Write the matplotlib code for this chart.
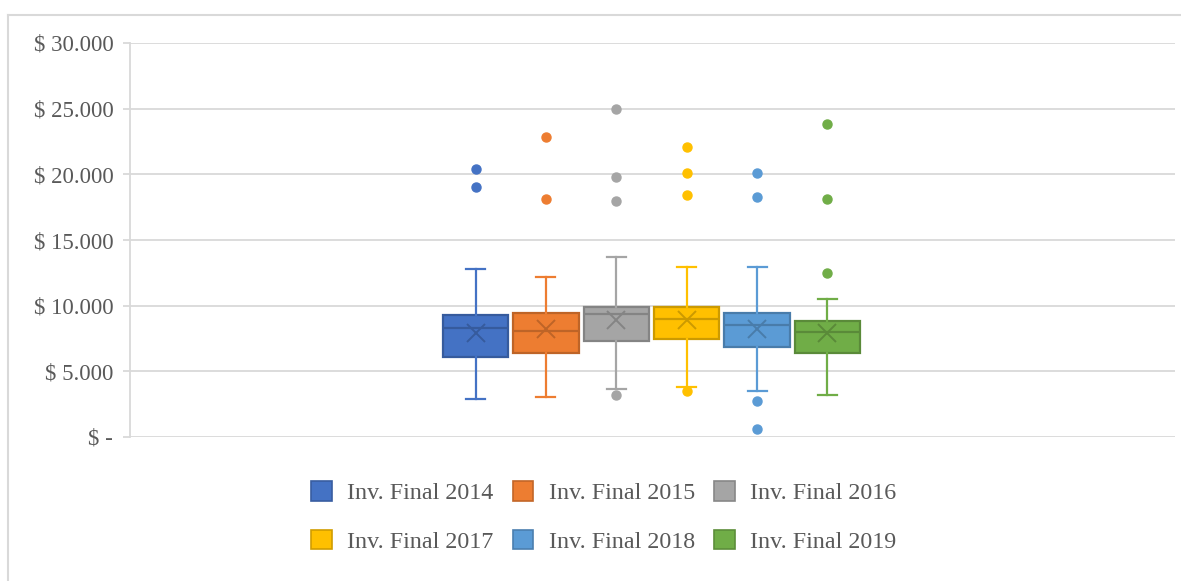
import matplotlib
matplotlib.use("Agg")
import matplotlib.pyplot as plt
from matplotlib.patches import Patch
from matplotlib.lines import Line2D
from matplotlib.ticker import FuncFormatter
import matplotlib.colors as mcolors

labels = ['Inv. Final 2014', 'Inv. Final 2015', 'Inv. Final 2016',
          'Inv. Final 2017', 'Inv. Final 2018', 'Inv. Final 2019']
colors = ['#4472C4', '#ED7D31', '#A5A5A5', '#FFC000', '#5B9BD5', '#70AD47']

q1 = [6090, 6400, 7340, 7490, 6880, 6420]
med = [8300, 8100, 9370, 9000, 8550, 7970]
q3 = [9290, 9470, 9920, 9920, 9470, 8860]
means = [7920, 8200, 8900, 8900, 8250, 7900]
whislo = [2890, 3070, 3650, 3830, 3500, 3220]
whishi = [12800, 12200, 13700, 12970, 12970, 10500]
fliers = [[20400, 19000],
          [22850, 18100],
          [24980, 19800, 17970, 3200],
          [22100, 20100, 18400, 3530],
          [20100, 18300, 2770, 630],
          [23800, 18150, 12500]]

yticks = [0, 5000, 10000, 15000, 20000, 25000, 30000]

plt.rcParams['font.family'] = ['Liberation Serif', 'DejaVu Serif']

def darker(c, f=0.8):
    r, g, b = mcolors.to_rgb(c)
    return (r * f, g * f, b * f)

fig = plt.figure(figsize=(11.81, 5.81), dpi=100)
ax = fig.add_axes([130 / 1181, 1 - 437 / 581, (1175 - 130) / 1181, (437 - 43) / 581])

grid_c = '#D9D9D9'
for i in range(len(labels)):
    st = dict(med=med[i], q1=q1[i], q3=q3[i], whislo=whislo[i], whishi=whishi[i],
              mean=means[i], fliers=fliers[i], label=labels[i])
    c = colors[i]
    dc = darker(c, 0.8)
    ax.bxp([st], positions=[i], widths=0.93, patch_artist=True, showmeans=True,
           boxprops=dict(facecolor=c, edgecolor=dc, linewidth=1.6),
           medianprops=dict(color=dc, linewidth=1.6),
           whiskerprops=dict(color=c, linewidth=1.6),
           capprops=dict(color=c, linewidth=1.6),
           capwidths=0.27,
           meanprops=dict(marker='x', markeredgecolor=dc, markersize=13, markeredgewidth=1.4),
           flierprops=dict(marker='o', markerfacecolor=c, markeredgecolor=c, markersize=6.5),
           zorder=3)

ax.set_xlim(-4.91, 9.94)
ax.set_ylim(0, 30000)
ax.set_yticks(yticks)
ax.yaxis.set_major_formatter(FuncFormatter(
    lambda v, p: '$ -' if v == 0 else '$ ' + f'{int(v):,}'.replace(',', '.')))
ax.set_xticks([])
ax.grid(axis='y', color=grid_c, linewidth=1.3, zorder=0)
ax.set_axisbelow(True)
for s in ['top', 'right', 'bottom']:
    ax.spines[s].set_visible(False)
ax.spines['left'].set_color(grid_c)
ax.spines['left'].set_linewidth(1.3)
ax.tick_params(axis='y', colors=grid_c, labelcolor='#595959', labelsize=16.5,
               length=5, width=1.3, pad=7)

# chart frame
fig.add_artist(Line2D([8 / 1181, 1.0], [1 - 15 / 581, 1 - 15 / 581],
                      transform=fig.transFigure, color=grid_c, linewidth=1.5))
fig.add_artist(Line2D([8 / 1181, 8 / 1181], [0, 1 - 15 / 581],
                      transform=fig.transFigure, color=grid_c, linewidth=1.5))

handles = [Patch(facecolor=c, edgecolor=darker(c, 0.82), linewidth=1.2) for c in colors]
order = [0, 3, 1, 4, 2, 5]  # row-wise fill for 3 columns x 2 rows
leg = fig.legend([handles[k] for k in order], [labels[k] for k in order], ncol=3,
                 loc='center', bbox_to_anchor=(604 / 1181, 1 - 517 / 581), frameon=False,
                 fontsize=17.3, handlelength=0.85, handleheight=0.85,
                 handletextpad=0.65, columnspacing=0.8, labelspacing=1.05)
for t in leg.get_texts():
    t.set_color('#595959')

fig.savefig('out.png', dpi=100)
